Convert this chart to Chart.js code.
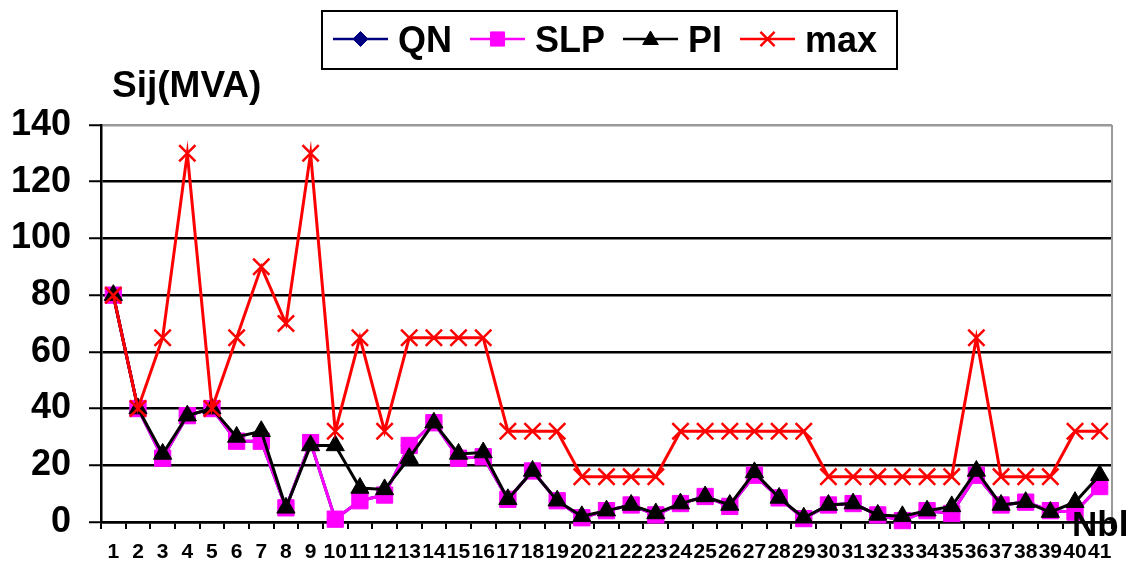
<!DOCTYPE html>
<html>
<head>
<meta charset="utf-8">
<script src="https://cdn.jsdelivr.net/npm/chart.js@4/dist/chart.umd.min.js"></script>
<style>
  html, body { margin: 0; padding: 0; background: #ffffff; }
  #wrap { width: 1130px; height: 563px; }
</style>
</head>
<body>
<div id="wrap"><canvas id="c" width="1130" height="563"></canvas></div>
<script>
// Branch numbers (Nbl)
const branches = ['1','2','3','4','5','6','7','8','9','10','11','12','13','14','15','16','17','18','19','20',
  '21','22','23','24','25','26','27','28','29','30','31','32','33','34','35','36','37','38','39','40','41'];

// Apparent power per branch, Sij (MVA)
const qnValues  = [80, 40, 22.5, 37.5, 40, 28.5, 28.5, 5, 28, 1, 7.5, 9.5, 27, 35, 22.5, 23, 8, 18, 7.5, 1.5,
  4, 6, 2.5, 6.5, 9, 5.5, 16.5, 8.5, 1.2, 6, 6.5, 2.5, 0.5, 4, 3, 16.5, 6, 7, 4, 3.5, 12.5];
const slpValues = [80, 40, 22.5, 37.5, 40, 28.5, 28.5, 5, 28, 1, 7.5, 9.5, 27, 35, 22.5, 23, 8, 18, 7.5, 1.5,
  4, 6, 2.5, 6.5, 9, 5.5, 16.5, 8.5, 1.2, 6, 6.5, 2.5, 0.5, 4, 3, 16.5, 6, 7, 4, 3.5, 12.5];
const piValues  = [80, 40, 24, 37.5, 40, 30, 32, 5, 27, 27, 12, 11.5, 22.5, 35, 24, 24.5, 8, 18, 7.5, 2,
  4, 6, 3, 6.5, 9, 6, 17.5, 8.5, 1.5, 6, 6.5, 2.5, 2, 4, 5.5, 18, 6, 7, 3.5, 7, 16.5];
const maxValues = [80, 40, 65, 130, 40, 65, 90, 70, 130, 32, 65, 32, 65, 65, 65, 65, 32, 32, 32, 16,
  16, 16, 16, 32, 32, 32, 32, 32, 32, 16, 16, 16, 16, 16, 16, 65, 16, 16, 16, 32, 32];

// Value axis ticks
const yTicks = [0, 20, 40, 60, 80, 100, 120, 140];

const yTitle = 'Sij(MVA)';
const xTitle = 'Nbl';
const BOLD = '"Liberation Sans", Arial, sans-serif';

function series(label, data, color, style, radius, order) {
  return {
    label: label,
    data: data,
    borderColor: color,
    backgroundColor: color,
    pointBackgroundColor: color,
    pointBorderColor: color,
    borderWidth: 3,
    pointStyle: style,
    pointRadius: radius,
    pointBorderWidth: style === 'crossRot' ? 2.5 : 1,
    tension: 0,
    clip: false,
    order: order
  };
}

// Boxed legend with a line segment and marker per series, plus the axis captions
const decorations = {
  id: 'decorations',
  beforeDatasetsDraw(chart) {
    const { ctx, chartArea } = chart;
    ctx.save();
    ctx.strokeStyle = '#9a9a9a';
    ctx.lineWidth = 2;
    ctx.beginPath();
    ctx.moveTo(chartArea.right, chartArea.top);
    ctx.lineTo(chartArea.right, chartArea.bottom);
    ctx.stroke();
    ctx.restore();
  },
  afterDraw(chart) {
    const { ctx } = chart;
    ctx.save();

    // legend frame
    ctx.strokeStyle = '#000000';
    ctx.lineWidth = 2;
    ctx.strokeRect(322, 11, 575, 58);

    ctx.font = 'bold 36px ' + BOLD;
    ctx.textBaseline = 'alphabetic';
    let x = 333;
    const cy = 39;
    const legendSizes = { rectRot: 7.5, rect: 10, triangle: 9, crossRot: 10 };
    chart.data.datasets.forEach(ds => {
      ctx.strokeStyle = ds.borderColor;
      ctx.fillStyle = ds.backgroundColor;
      ctx.lineWidth = 2.5;
      ctx.beginPath();
      ctx.moveTo(x, cy);
      ctx.lineTo(x + 55, cy);
      ctx.stroke();
      ctx.lineWidth = ds.pointStyle === 'crossRot' ? 2.5 : 1;
      Chart.helpers.drawPoint(ctx, {
        pointStyle: ds.pointStyle,
        radius: legendSizes[ds.pointStyle],
        borderWidth: ctx.lineWidth,
        rotation: 0
      }, x + 27.5, cy + (ds.pointStyle === 'triangle' ? 1 : 0));
      ctx.fillStyle = '#000000';
      ctx.fillText(ds.label, x + 65, 52);
      x += 65 + ctx.measureText(ds.label).width + 18;
    });

    // axis captions
    ctx.font = 'bold 37px ' + BOLD;
    ctx.fillStyle = '#000000';
    ctx.fillText(yTitle, 112, 97);
    ctx.font = 'bold 35px ' + BOLD;
    ctx.fillText(xTitle, 1072, 536);
    ctx.restore();
  }
};

new Chart(document.getElementById('c'), {
  type: 'line',
  data: {
    labels: branches,
    datasets: [
      series('QN', qnValues, '#000080', 'rectRot', 8, 3),
      series('SLP', slpValues, '#ff00ff', 'rect', 11.5, 2),
      series('PI', piValues, '#000000', 'triangle', 10.5, 1),
      series('max', maxValues, '#ff0000', 'crossRot', 11.5, 0)
    ]
  },
  options: {
    responsive: false,
    devicePixelRatio: 1,
    animation: false,
    layout: { padding: { left: 0, right: 18, top: 125, bottom: 0 } },
    plugins: {
      legend: { display: false },
      title: { display: false },
      tooltip: { enabled: false }
    },
    scales: {
      x: {
        type: 'category',
        offset: true,
        afterFit(scale) { scale.height = 41; },
        grid: {
          offset: true,
          drawOnChartArea: false,
          drawTicks: true,
          tickLength: 7,
          tickColor: '#000000',
          lineWidth: 2
        },
        border: { display: true, color: '#000000', width: 2.5 },
        ticks: {
          autoSkip: false,
          maxRotation: 0,
          minRotation: 0,
          padding: 11,
          color: '#000000',
          font: { family: BOLD, size: 21, weight: 'bold' }
        }
      },
      y: {
        min: 0,
        max: 140,
        afterFit(scale) { scale.width = 101; },
        afterBuildTicks(scale) { scale.ticks = yTicks.map(v => ({ value: v })); },
        grid: {
          color: ctx => (ctx.tick && ctx.tick.value === 140) ? '#9a9a9a' : '#000000',
          lineWidth: 2.5,
          tickLength: 12,
          tickColor: '#000000',
          tickWidth: 2
        },
        border: { display: true, color: '#000000', width: 2.5 },
        ticks: {
          padding: 18,
          color: '#000000',
          font: { family: BOLD, size: 36, weight: 'bold' }
        }
      }
    }
  },
  plugins: [decorations]
});
</script>
</body>
</html>
